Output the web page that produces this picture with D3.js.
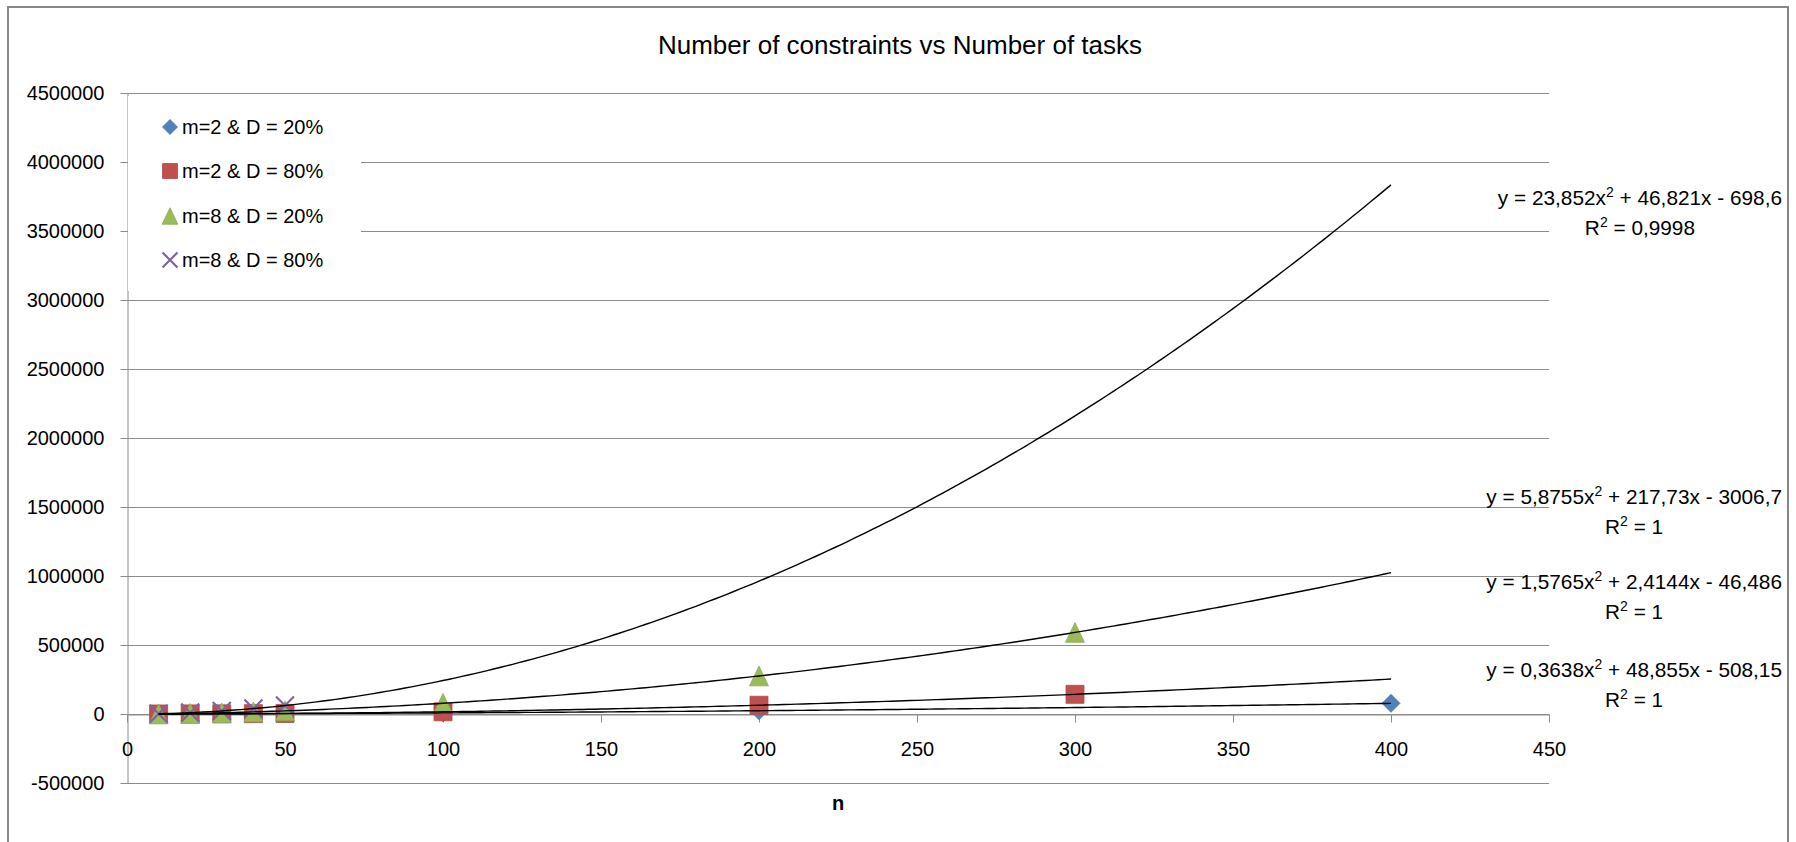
<!DOCTYPE html>
<html>
<head>
<meta charset="utf-8">
<script src="https://cdn.jsdelivr.net/npm/d3@7"></script>
<style>
  html, body { margin: 0; padding: 0; background: #fff; }
  svg { display: block; font-family: "Liberation Sans", Arial, sans-serif; }
</style>
</head>
<body>
<svg id="chart" width="1796" height="842"></svg>
<script>
// ---- data ----
const seriesNames = ["m=2 & D = 20%", "m=2 & D = 80%", "m=8 & D = 20%", "m=8 & D = 80%"];
const seriesColors = ["#4F81BD", "#C0504D", "#9BBB59", "#8064A2"];
const seriesShapes = ["diamond", "square", "triangle", "cross"];

const nM2D20 = [10, 20, 30, 40, 50, 100, 200, 400];
const vM2D20 = [20, 610, 1290, 2030, 2840, 8000, 23800, 77200];

const nM2D80 = [10, 20, 30, 40, 50, 100, 200, 300];
const vM2D80 = [140, 630, 1450, 2570, 4020, 15960, 63500, 142600];

const nM8D20 = [10, 20, 30, 40, 50, 100, 200, 300];
const vM8D20 = [300, 3700, 8810, 15100, 22570, 77500, 275600, 591100];

const nM8D80 = [10, 20, 30, 40, 50];
const vM8D80 = [2150, 9780, 22170, 39340, 61270];

// polynomial trendlines y = a x^2 + b x + c, one per series
const trendA = [0.3638, 1.5765, 5.8755, 23.852];
const trendB = [48.855, 2.4144, 217.73, 46.821];
const trendC = [-508.15, -46.486, -3006.7, -698.6];
const trendR2 = ["1", "1", "1", "0,9998"];
const trendRange = [10, 400];

const xTicks = [0, 50, 100, 150, 200, 250, 300, 350, 400, 450];
const yTicks = [-500000, 0, 500000, 1000000, 1500000, 2000000, 2500000, 3000000, 3500000, 4000000, 4500000];

const titleText = "Number of constraints vs Number of tasks";
const xTitle = "n";

// ---- layout ----
const svg = d3.select("#chart");
const x = d3.scaleLinear().domain([0, 450]).range([127, 1549]);
const y = d3.scaleLinear().domain([-500000, 4500000]).range([783, 93]);
const gridColor = "#8c8c8c";

// outer chart frame
svg.append("rect")
  .attr("x", 8).attr("y", 7).attr("width", 1780).attr("height", 900)
  .attr("fill", "#fff").attr("stroke", "#878787").attr("stroke-width", 2);

// title
svg.append("text")
  .attr("x", 900).attr("y", 54)
  .attr("text-anchor", "middle")
  .attr("font-size", 26).attr("fill", "#000")
  .text(titleText);

// horizontal gridlines
svg.append("g").selectAll("line").data(yTicks).join("line")
  .attr("x1", x(0)).attr("x2", x(450))
  .attr("y1", d => y(d) + 0.5).attr("y2", d => y(d) + 0.5)
  .attr("stroke", gridColor).attr("stroke-width", 1);

// y axis
const yAxis = svg.append("g")
  .attr("transform", `translate(${x(0) + 0.5},0)`)
  .call(d3.axisLeft(y).tickValues(yTicks).tickSize(7).tickSizeOuter(0).tickPadding(16)
    .tickFormat(d => String(d)));
// x axis on the zero line
const xAxis = svg.append("g")
  .attr("transform", `translate(0,${y(0) + 0.5})`)
  .call(d3.axisBottom(x).tickValues(xTicks).tickSize(8).tickSizeOuter(0).tickPadding(19)
    .tickFormat(d => String(d)));
[yAxis, xAxis].forEach(g => {
  g.select(".domain").attr("stroke", gridColor);
  g.selectAll(".tick line").attr("stroke", gridColor);
  g.selectAll(".tick text").attr("font-size", 20).attr("fill", "#000")
    .attr("font-family", "Liberation Sans, Arial, sans-serif");
});

// x axis title
svg.append("text")
  .attr("x", 838).attr("y", 810)
  .attr("text-anchor", "middle")
  .attr("font-size", 20).attr("font-weight", "bold").attr("fill", "#000")
  .text(xTitle);

// marker shapes
function markerPath(shape, s) {
  const h = s / 2;
  if (shape === "diamond") return `M0,${-h}L${h},0L0,${h}L${-h},0Z`;
  if (shape === "square") return `M${-h},${-h}H${h}V${h}H${-h}Z`;
  if (shape === "triangle") return `M0,${-h * 1.1}L${h * 1.05},${h * 1.1}H${-h * 1.05}Z`;
  return `M${-h},${-h}L${h},${h}M${h},${-h}L${-h},${h}`;
}
function drawMarker(g, shape, color, cx, cy, s) {
  const p = g.append("path")
    .attr("transform", `translate(${cx},${cy})`)
    .attr("d", markerPath(shape, s));
  if (shape === "cross") {
    p.attr("fill", "none").attr("stroke", color).attr("stroke-width", 2.2);
  } else {
    p.attr("fill", color).attr("stroke", d3.color(color).darker(0.25)).attr("stroke-width", 0.8);
  }
}

// scatter points
const allN = [nM2D20, nM2D80, nM8D20, nM8D80];
const allV = [vM2D20, vM2D80, vM8D20, vM8D80];
const pts = svg.append("g");
allN.forEach((ns, i) => {
  ns.forEach((n, j) => {
    drawMarker(pts, seriesShapes[i], seriesColors[i], x(n), y(allV[i][j]), 18);
  });
});

// trendlines
const line = d3.line().x(d => x(d[0])).y(d => y(d[1]));
const trends = svg.append("g");
trendA.forEach((a, i) => {
  const b = trendB[i], c = trendC[i];
  const xs = d3.range(trendRange[0], trendRange[1] + 0.001, 2);
  trends.append("path")
    .attr("d", line(xs.map(n => [n, a * n * n + b * n + c])))
    .attr("fill", "none").attr("stroke", "#000").attr("stroke-width", 1.4);
});

// trendline equations
const fmt = v => String(Math.abs(v)).replace(".", ",");
const labelY = [670, 582, 497, 198];
const labels = svg.append("g").attr("font-size", 20.8).attr("fill", "#000");
trendA.forEach((a, i) => {
  const t = labels.append("text")
    .attr("x", 1782).attr("y", labelY[i] + 7)
    .attr("text-anchor", "end");
  t.append("tspan").text(`y = ${fmt(a)}x`);
  t.append("tspan").attr("font-size", 14).attr("dy", -8).text("2");
  t.append("tspan").attr("dy", 8).text(` + ${fmt(trendB[i])}x ${trendC[i] < 0 ? "-" : "+"} ${fmt(trendC[i])}`);
  const w = t.node().getComputedTextLength();
  const r = labels.append("text")
    .attr("x", 1782 - w / 2).attr("y", labelY[i] + 37)
    .attr("text-anchor", "middle");
  r.append("tspan").text("R");
  r.append("tspan").attr("font-size", 14).attr("dy", -8).text("2");
  r.append("tspan").attr("dy", 8).text(` = ${trendR2[i]}`);
});

// legend
const legend = svg.append("g");
legend.append("rect")
  .attr("x", 128).attr("y", 96).attr("width", 233).attr("height", 195)
  .attr("fill", "#fff");
const legendY = [127, 171, 216, 260];
seriesNames.forEach((name, i) => {
  drawMarker(legend, seriesShapes[i], seriesColors[i], 170, legendY[i], 15);
  legend.append("text")
    .attr("x", 182).attr("y", legendY[i] + 7)
    .attr("font-size", 20).attr("fill", "#000")
    .text(name);
});
</script>
</body>
</html>
